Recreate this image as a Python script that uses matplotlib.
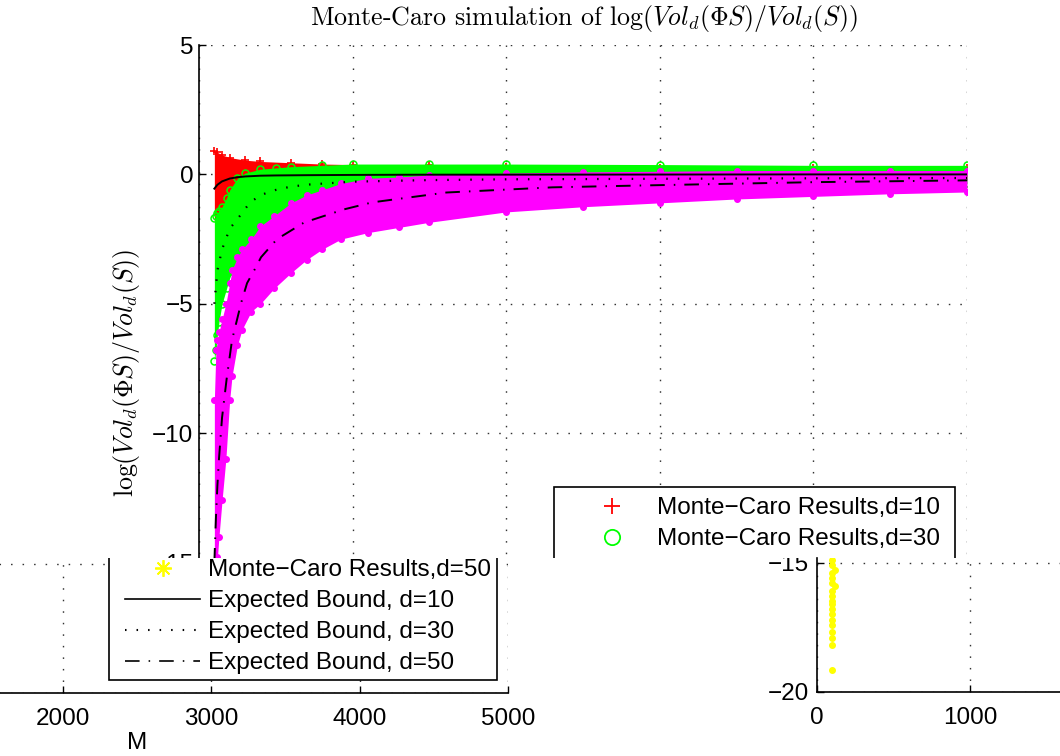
import matplotlib
matplotlib.use('Agg')
import matplotlib.pyplot as plt
from matplotlib.lines import Line2D
from matplotlib.patches import Rectangle
from matplotlib.transforms import Bbox, TransformedBbox

plt.rcParams['font.family'] = ['Liberation Sans', 'DejaVu Sans']
plt.rcParams['mathtext.fontset'] = 'cm'
plt.rcParams['lines.scale_dashes'] = False
plt.rcParams['axes.unicode_minus'] = True

# ---------------- data ----------------
# Monte-Caro results d=10 (red +): cloud envelope per M
m_mc10 = [100, 120, 150, 200, 300, 400, 600, 800, 1000, 1500, 2000, 3000, 4000, 5000]
hi_mc10 = [0.9, 0.85, 0.75, 0.65, 0.55, 0.5, 0.45, 0.4, 0.38, 0.38, 0.3, 0.25, 0.25, 0.25]
lo_mc10 = [-1.8, -1.6, -1.35, -1.1, -0.8, -0.6, -0.45, -0.4, -0.35, -0.3, -0.25, -0.2, -0.2, -0.2]

# Monte-Caro results d=30 (green o)
m_mc30 = [100, 110, 120, 130, 150, 180, 200, 250, 300, 400, 500, 600, 800, 1000, 1500, 2000, 3000, 4000, 5000]
hi_mc30 = [-1.7, -1.6, -1.5, -1.4, -1.25, -0.9, -0.6, -0.15, 0.05, 0.2, 0.25, 0.3, 0.35, 0.4, 0.4, 0.4, 0.38, 0.35, 0.35]
lo_mc30 = [-7.2, -6.8, -6.2, -5.7, -5.0, -4.4, -4.0, -3.3, -2.8, -2.2, -1.8, -1.5, -1.2, -1.0, -0.75, -0.6, -0.45, -0.4, -0.35]

# Monte-Caro results d=50 (magenta dots in main panel)
m_mc50 = [100, 110, 120, 130, 150, 175, 200, 215, 250, 280, 340, 400, 490, 600, 700, 800, 925,
          1100, 1300, 1500, 2000, 2500, 3000, 3500, 4000, 4500, 5000]
hi_mc50 = [-8.7, -6.8, -6.4, -6.1, -5.6, -5.0, -4.2, -3.7, -3.2, -2.9, -2.5, -2.0, -1.6, -1.1, -0.8,
           -0.6, -0.35, -0.15, -0.1, -0.02, 0.05, 0.1, 0.12, 0.15, 0.15, 0.15, 0.15]
lo_mc50 = [-15.5, -15.3, -14.8, -14.0, -12.6, -11.0, -8.7, -7.8, -6.6, -6.0, -5.3, -5.0, -4.4, -3.8,
           -3.3, -2.9, -2.5, -2.25, -2.05, -1.85, -1.45, -1.25, -1.1, -0.95, -0.85, -0.75, -0.68]

# yellow points (d=50 results at M=100, lower right panel)
m_yellow = [100, 100, 118, 100, 100, 100, 118, 100, 100, 100, 100, 100, 100, 100, 100, 100, 100, 100, 100]
y_yellow = [-14.9, -15.1, -15.3, -15.4, -15.6, -15.8, -15.9, -16.1, -16.3, -16.5, -16.6, -16.8,
            -17.0, -17.2, -17.4, -17.7, -17.9, -18.2, -19.15]

# Expected bounds
m_b10 = [100, 120, 150, 200, 250, 300, 400, 500, 700, 1000, 1500, 2000, 3000, 4000, 5000]
b10 = [-0.55, -0.4, -0.27, -0.16, -0.11, -0.08, -0.05, -0.04, -0.03, -0.02, -0.01, -0.01, -0.005, 0.0, 0.0]
m_b30 = [100, 120, 150, 200, 260, 330, 400, 500, 600, 720, 1000, 1500, 2000, 3000, 4000, 5000]
b30 = [-5.0, -3.7, -2.9, -2.1, -1.65, -1.1, -0.8, -0.6, -0.47, -0.39, -0.28, -0.22, -0.19, -0.17, -0.15, -0.14]
m_b50 = [100, 110, 120, 130, 150, 180, 215, 275, 313, 360, 404, 508, 684, 945, 1128, 1610, 2300, 2868, 4000, 5000]
b50 = [-15.0, -13.3, -12.0, -11.0, -9.4, -7.9, -6.4, -4.95, -4.2, -3.7, -3.2, -2.5, -1.86, -1.35, -1.08,
       -0.7, -0.5, -0.43, -0.3, -0.23]

labels = ['Monte\u2212Caro Results,d=10', 'Monte\u2212Caro Results,d=30', 'Monte\u2212Caro Results,d=50',
          'Expected Bound, d=10', 'Expected Bound, d=30', 'Expected Bound, d=50']
x_ticks = [0, 1000, 2000, 3000, 4000, 5000]
x_ticks_low = [2000, 3000, 4000, 5000]
x_ticks_right = [0, 1000]
y_ticks = [-20, -15, -10, -5, 0, 5]
y_ticks_low = [-20, -15]

# ---------------- styles ----------------
RED, GREEN, MAG, YEL = '#ff0000', '#00ff00', '#ff00ff', '#ffff00'
DOT = (0, (1.1, 7.2))
DASHDOT = (0, (10.5, 6.5, 1.1, 6.5))
GRID = dict(color='#333333', linestyle=DOT, linewidth=1.0)
FS = 17.5

W, H = 1060, 756
SPLIT = 558  # pixel row where the two rendered halves meet
fig = plt.figure(figsize=(W / 100, H / 100), dpi=100)
lower_band = TransformedBbox(Bbox([[0, 0], [1, 1 - SPLIT / H]]), fig.transFigure)


def px_axes(left, top, right, bottom):
    return fig.add_axes([left / W, 1 - bottom / H, (right - left) / W, (bottom - top) / H])


def style_axes(ax):
    for s in ['top', 'right']:
        ax.spines[s].set_visible(False)
    for s in ['left', 'bottom']:
        ax.spines[s].set_linewidth(1.2)
    ax.grid(True, **GRID)
    ax.tick_params(direction='in', length=5, width=1.0, labelsize=FS)


# ---------------- main panel ----------------
ax = px_axes(199, 45, 967, 692)
ax.set_zorder(0)
style_axes(ax)
ax.set_xlim(0, 5000)
ax.set_ylim(-20, 5)
ax.set_xticks(x_ticks)
ax.set_yticks(y_ticks)
ax.tick_params(axis='x', bottom=False, labelbottom=False)
ax.tick_params(axis='y', pad=4)
ax.spines['bottom'].set_visible(False)

ax.fill_between(m_mc10, lo_mc10, hi_mc10, color=RED, lw=0, zorder=2)
ax.plot(m_mc10, hi_mc10, ls='none', marker='+', ms=6, mew=1.2, color=RED, zorder=2)
ax.fill_between(m_mc30, lo_mc30, hi_mc30, color=GREEN, lw=0, zorder=2.1)
ax.plot(m_mc30, hi_mc30, ls='none', marker='o', ms=5, mfc='none', mew=1.1, color=GREEN, zorder=2.1)
ax.plot(m_mc30, lo_mc30, ls='none', marker='o', ms=5, mfc='none', mew=1.1, color=GREEN, zorder=2.1)
ax.fill_between(m_mc50, lo_mc50, hi_mc50, color=MAG, lw=0, zorder=2.2)
ax.plot(m_mc50, hi_mc50, ls='none', marker='o', ms=4, color=MAG, mec=MAG, zorder=2.2)
ax.plot(m_mc50, lo_mc50, ls='none', marker='o', ms=4, color=MAG, mec=MAG, zorder=2.2)

ax.plot(m_b10, b10, color='k', lw=1.4, ls='-', zorder=3)
ax.plot(m_b30, b30, color='k', lw=1.6, ls=DOT, zorder=3)
ax.plot(m_b50, b50, color='k', lw=1.4, ls=DASHDOT, zorder=3)

handles = [
    Line2D([], [], color=RED, marker='+', ls='none', ms=11, mew=1.3),
    Line2D([], [], color=GREEN, marker='o', mfc='none', ls='none', ms=11, mew=1.3),
    Line2D([], [], color=YEL, marker=(8, 2, 0), ls='none', ms=12, mew=1.3),
    Line2D([], [], color='k', ls='-', lw=1.2),
    Line2D([], [], color='k', ls=DOT, lw=1.5),
    Line2D([], [], color='k', ls=DASHDOT, lw=1.2),
]

fig.text(584 / W, 1 - 18 / H, r'Monte-Caro simulation of $\log(Vol_d(\Phi S)/Vol_d(S))$',
         ha='center', va='center', fontsize=18.6, family='cmr10')
fig.text(127 / W, 1 - 373 / H, r'$\log(Vol_d(\Phi S)/Vol_d(S))$', rotation=90,
         ha='center', va='center', fontsize=18.6)


def legend_in(axis, box_left, box_right, handle_left):
    leg = axis.legend(handles, labels, loc='upper left', frameon=False, fontsize=FS,
                      bbox_to_anchor=(handle_left / W, 1 - 497 / H), bbox_transform=fig.transFigure,
                      borderpad=0, borderaxespad=0, handlelength=3.1, handletextpad=0.33,
                      labelspacing=0.37, handleheight=0.7)
    leg.set_zorder(6)
    frame = Rectangle((box_left / W, 1 - 680 / H), (box_right - box_left) / W, (680 - 487) / H,
                      transform=fig.transFigure, facecolor='white', edgecolor='k', lw=1.2, zorder=5.5)
    axis.add_artist(frame)
    return leg


leg_main = legend_in(ax, 554, 955, 574)

# white cover for the lower band
cover = Rectangle((0, 0), 1, 1 - SPLIT / H, transform=fig.transFigure, facecolor='white',
                  edgecolor='none', zorder=1)
fig.add_artist(cover)

# ---------------- lower left panel ----------------
axl = px_axes(-234, SPLIT, 508, 693)
axl.set_zorder(2)
style_axes(axl)
axl.spines['left'].set_visible(False)
axl.set_xlim(0, 5000)
axl.set_ylim(-20, -20 + (693 - SPLIT) / 25.88)
axl.set_xticks(x_ticks_low)
axl.set_yticks(y_ticks_low)
axl.tick_params(axis='x', pad=11)
axl.tick_params(axis='y', left=False, labelleft=False)
axl.set_xlabel('M', fontsize=FS, labelpad=1)
leg_low = legend_in(axl, 109, 497, 125)
for a in leg_low.findobj():
    a.set_clip_box(lower_band)
    a.set_clip_on(True)

# ---------------- lower right panel ----------------
axr = px_axes(817, SPLIT, 1300, 692)
axr.set_zorder(2)
style_axes(axr)
axr.set_xlim(0, (1300 - 817) / 0.1534)
axr.set_ylim(-20, -20 + (692 - SPLIT) / 25.88)
axr.set_xticks(x_ticks_right)
axr.set_yticks(y_ticks_low)
axr.tick_params(axis='x', pad=11)
axr.tick_params(axis='y', pad=6)
axr.plot(m_yellow, y_yellow, ls='none', marker='o', ms=4, color=YEL, mec=YEL, zorder=3)

# the lower half is cut at the seam: clip its tick labels there as well
for t in axr.get_yticklabels():
    t.set_clip_box(lower_band)
    t.set_clip_on(True)

fig.savefig('out.png', dpi=100)
